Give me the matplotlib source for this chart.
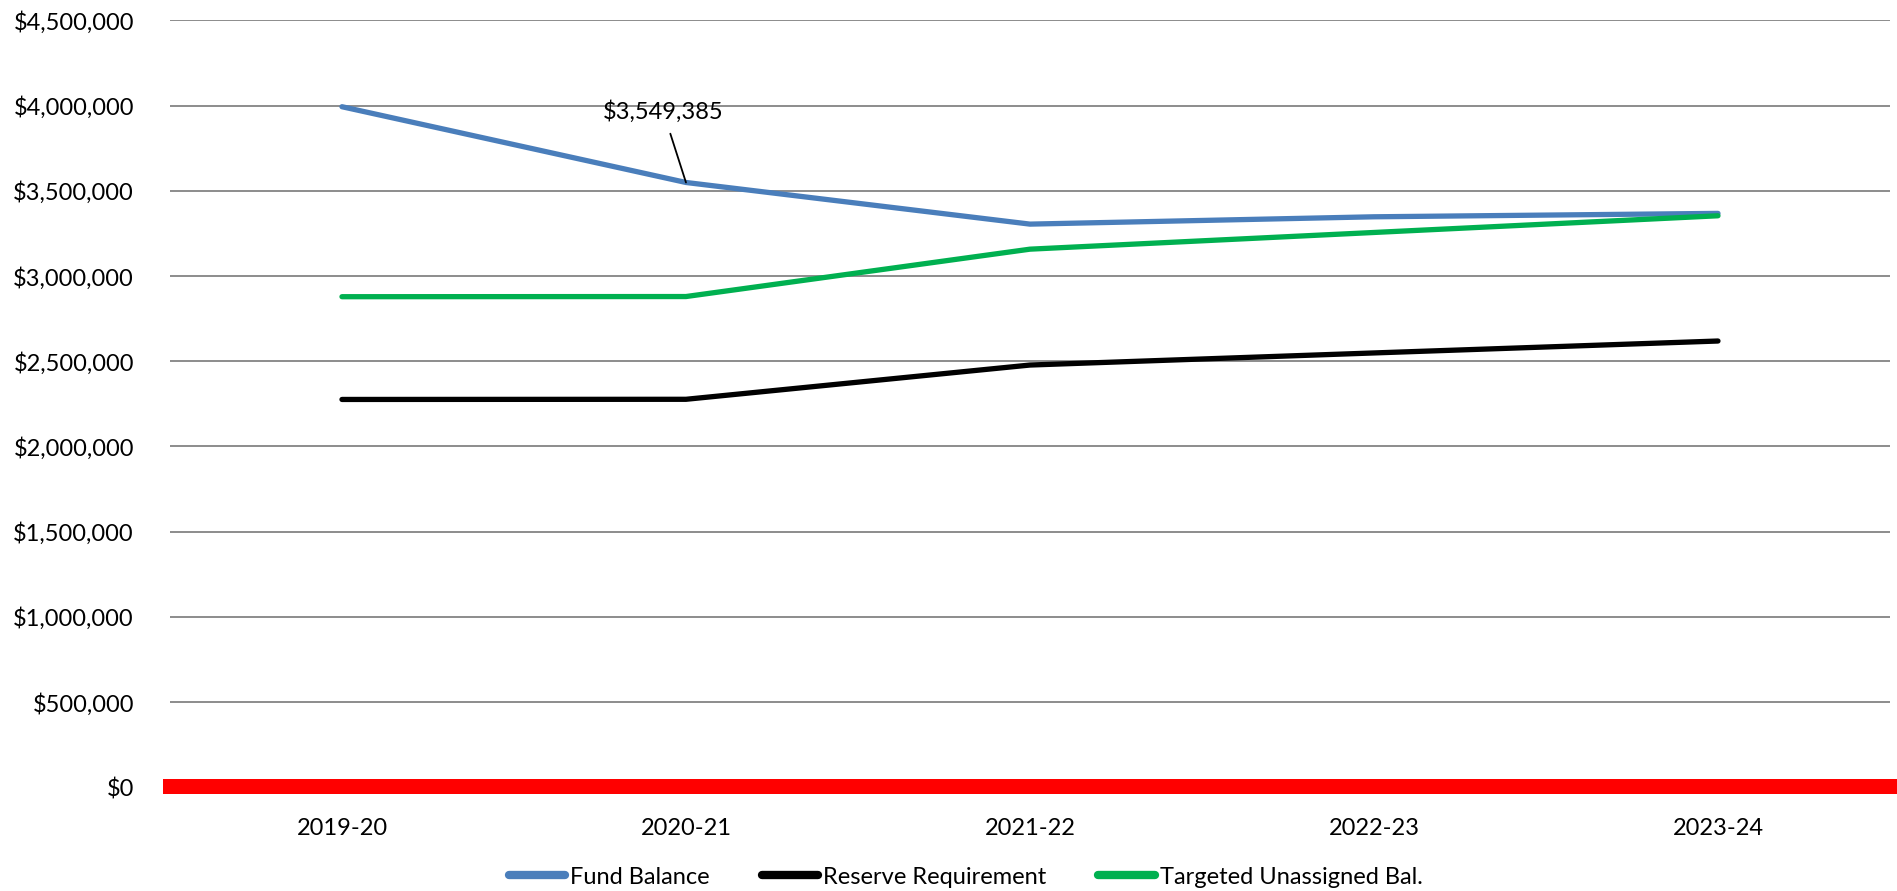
import matplotlib
matplotlib.use("Agg")
import matplotlib.pyplot as plt
from matplotlib.ticker import FuncFormatter, MultipleLocator

categories = ["2019-20", "2020-21", "2021-22", "2022-23", "2023-24"]
fund_balance = [3994000, 3549385, 3305000, 3348000, 3368000]
reserve_req = [2276000, 2277000, 2478000, 2549000, 2619000]
targeted_unassigned = [2879000, 2880000, 3158000, 3256000, 3354000]

plt.rcParams['font.family'] = ['Lato', 'DejaVu Sans']

fig = plt.figure(figsize=(18.97, 8.91), dpi=100)
ax = fig.add_axes([0.0896, 0.1164, 0.9067, 0.8606])

x = list(range(len(categories)))
lw = 3.8
ax.plot(x, fund_balance, color="#4A7EBB", lw=lw, solid_capstyle="round",
        solid_joinstyle="round", label="Fund Balance", zorder=3)
ax.plot(x, reserve_req, color="#000000", lw=lw, solid_capstyle="round",
        solid_joinstyle="round", label="Reserve Requirement", zorder=3)
ax.plot(x, targeted_unassigned, color="#00B050", lw=lw, solid_capstyle="round",
        solid_joinstyle="round", label="Targeted Unassigned Bal.", zorder=3)

ax.set_xlim(-0.5, len(categories) - 0.5)
ax.set_ylim(0, 4500000)
ax.yaxis.set_major_locator(MultipleLocator(500000))
ax.yaxis.set_major_formatter(FuncFormatter(lambda v, p: "${:,.0f}".format(v)))
ax.grid(axis="y", color="#8C8C8C", lw=1.4, zorder=1)
ax.set_axisbelow(True)

# red axis line at zero
ax.plot([-0.5, len(categories) - 0.5], [8000, 8000], color="#FF0000", lw=10.8,
        solid_capstyle="projecting", clip_on=False, zorder=4)

for s in ax.spines.values():
    s.set_visible(False)

ax.set_xticks(x)
ax.set_xticklabels(categories)
ax.tick_params(axis="both", length=0, labelsize=17)
ax.tick_params(axis="y", pad=26)
ax.tick_params(axis="x", pad=22)

# data label
ax.annotate("${:,.0f}".format(fund_balance[1]), xy=(x[1], fund_balance[1]),
            xytext=(x[1] - 0.066, 3965000), textcoords="data",
            ha="center", va="center", fontsize=17,
            arrowprops=dict(arrowstyle="-", color="black", lw=1.3,
                            shrinkA=6, shrinkB=0), zorder=5)

leg = fig.legend(loc="center", bbox_to_anchor=(0.509, 0.0157), ncol=3,
                 frameon=False, fontsize=17, handlelength=2.4,
                 handletextpad=0.2, columnspacing=2.2)
for h in leg.get_lines():
    h.set_linewidth(6)
    h.set_solid_capstyle("round")

fig.savefig("out.png", dpi=100)
